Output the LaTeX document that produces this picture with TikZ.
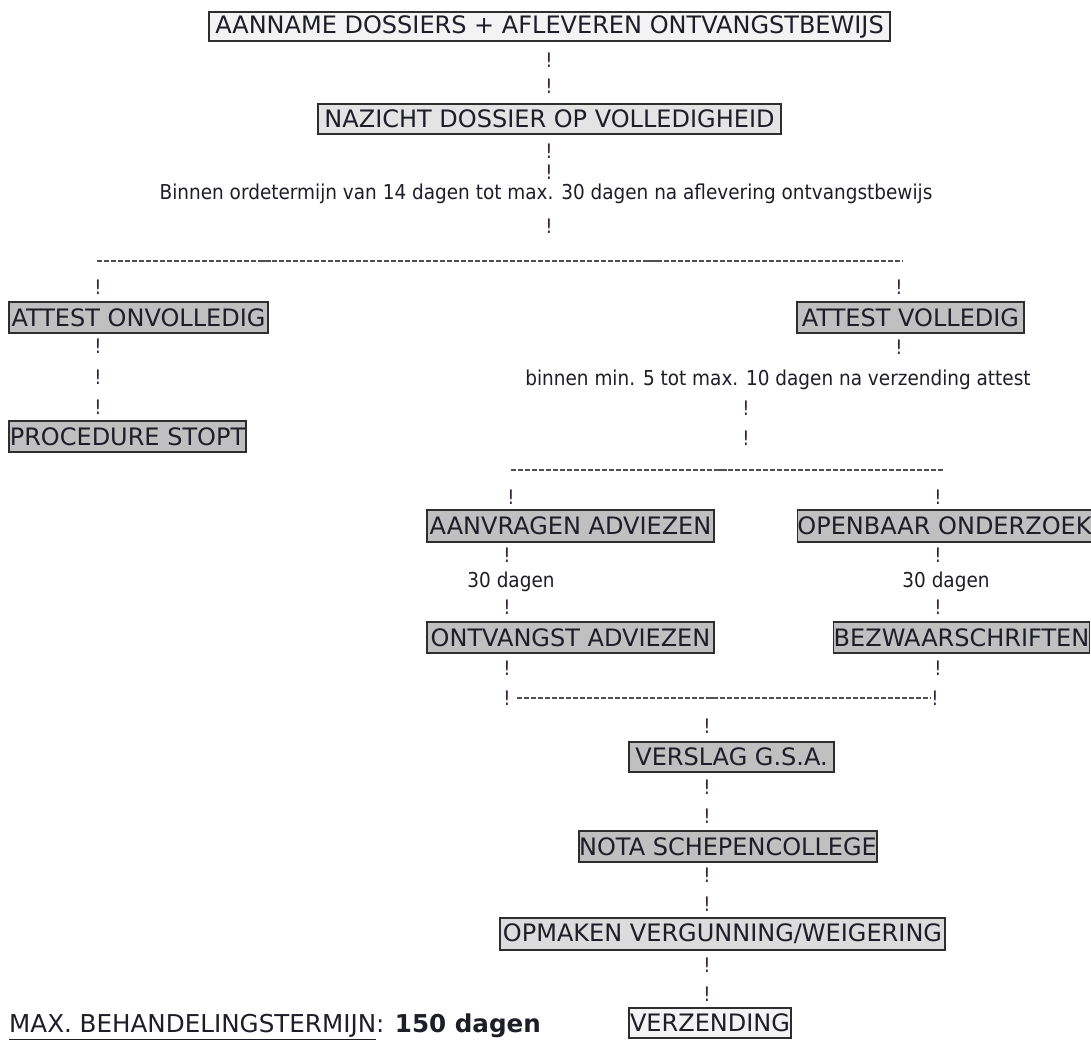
\documentclass[tikz,border=0pt]{standalone}
\usepackage{fontspec}
\setmainfont{DejaVu Sans}
\newfontfamily\tah{DejaVu Sans}[FakeStretch=0.9]
\definecolor{boxline}{HTML}{2E2E2E}
\definecolor{pale}{HTML}{F3F3F3}
\definecolor{light}{HTML}{E4E4E4}
\definecolor{lighttwo}{HTML}{DCDCDC}
\definecolor{midgray}{HTML}{C0C0C0}
\definecolor{textcol}{HTML}{1E1E28}
\definecolor{bangcol}{HTML}{3A2238}
\definecolor{dashcol}{HTML}{505050}
\begin{document}
\begin{tikzpicture}[x=1pt,y=-1pt,
  box/.style={draw=boxline, line width=1.6pt, inner sep=0pt, minimum height=30pt,
    font=\fontsize{24}{24}\selectfont, text=textcol},
  bang/.style={inner sep=0pt, font=\tah\fontsize{20}{20}\selectfont, text=bangcol},
  lbl/.style={inner sep=0pt, font=\tah\fontsize{20.5}{20.5}\selectfont, text=textcol},
  dashrow/.style={draw=dashcol, line width=1.1pt, dash pattern=on 5pt off 2pt},
  longdash/.style={draw=dashcol, line width=1.1pt},
]
\useasboundingbox (0,0) rectangle (1091,1039);
\fill[white] (0,0) rectangle (1091,1039);

% boxes
\node[box, fill=pale, minimum width=681pt, minimum height=29pt] (aanname) at (549.5,26.5) {AANNAME DOSSIERS + AFLEVEREN ONTVANGSTBEWIJS};
\node[box, fill=light, minimum width=463pt] (nazicht) at (549.5,119) {NAZICHT DOSSIER OP VOLLEDIGHEID};
\node[box, fill=midgray, minimum width=259pt, minimum height=31pt] (onvol) at (138.5,317.5) {ATTEST ONVOLLEDIG};
\node[box, fill=midgray, minimum width=227pt, minimum height=31pt] (vol) at (910.5,317.5) {ATTEST VOLLEDIG};
\node[box, fill=midgray, minimum width=237pt, minimum height=31pt] (stopt) at (127.5,436.5) {PROCEDURE STOPT};
\node[box, fill=midgray, minimum width=287pt, minimum height=32pt] (aanvr) at (570.5,526) {AANVRAGEN ADVIEZEN};
\node[box, fill=midgray, minimum width=290pt, minimum height=32pt] (openb) at (944.5,526) {OPENBAAR ONDERZOEK};
\node[box, fill=midgray, minimum width=287pt, minimum height=31pt] (ontv) at (570.5,637.5) {ONTVANGST ADVIEZEN};
\node[box, fill=midgray, minimum width=256pt, minimum height=31pt] (bezw) at (961.5,637.5) {BEZWAARSCHRIFTEN};
\node[box, fill=midgray, minimum width=205pt] (verslag) at (731.5,757) {VERSLAG G.S.A.};
\node[box, fill=midgray, minimum width=296pt, minimum height=31pt] (nota) at (728,846.5) {NOTA SCHEPENCOLLEGE};
\node[box, fill=lighttwo, minimum width=445pt, minimum height=32pt] (opmaken) at (722.5,934) {OPMAKEN VERGUNNING/WEIGERING};
\node[box, fill=pale, minimum width=162pt] (verz) at (710,1023) {VERZENDING};

% labels
\node[lbl] (t1) at (546,194) {Binnen ordetermijn van 14 dagen tot max. 30 dagen na aflevering ontvangstbewijs};
\node[lbl] (t2) at (778,380) {binnen min. 5 tot max. 10 dagen na verzending attest};
\node[lbl] (d1) at (511,582) {30 dagen};
\node[lbl] (d2) at (946,582) {30 dagen};
\node[inner sep=0pt, anchor=west, font=\fontsize{24.6}{24.6}\selectfont, text=textcol] (maxt) at (9,1027)
  {\underline{MAX. BEHANDELINGSTERMIJN}: \textbf{150 dagen}};

% exclamation connectors
\node[bang] (b1) at (549,60) {!};
\node[bang] (b2) at (549,86) {!};
\node[bang] (b3) at (549,151) {!};
\node[bang] (b4) at (549,172) {!};
\node[bang] (b5) at (549,226) {!};
\node[bang] (bl1) at (98,287) {!};
\node[bang] (bl2) at (98,346) {!};
\node[bang] (bl3) at (98,377) {!};
\node[bang] (bl4) at (98,407) {!};
\node[bang] (br1) at (899,287) {!};
\node[bang] (br2) at (899,347) {!};
\node[bang] (bm1) at (746,408) {!};
\node[bang] (bm2) at (746,438) {!};
\node[bang] (ba0) at (511,497) {!};
\node[bang] (bo0) at (938,497) {!};
\node[bang] (ba1) at (507,555) {!};
\node[bang] (ba2) at (507,607) {!};
\node[bang] (bo1) at (938,555) {!};
\node[bang] (bo2) at (938,607) {!};
\node[bang] (ba3) at (507,668) {!};
\node[bang] (bo3) at (938,668) {!};
\node[bang] (ba4) at (507,698) {!};
\node[bang] (bo4) at (935,698) {!};
\node[bang] (bc1) at (707,726) {!};
\node[bang] (bc2) at (707,787) {!};
\node[bang] (bc3) at (707,816) {!};
\node[bang] (bc4) at (707,875) {!};
\node[bang] (bc5) at (707,904) {!};
\node[bang] (bc6) at (707,965) {!};
\node[bang] (bc7) at (707,994) {!};

% dashed rows
\coordinate (r1a) at (97,261);
\coordinate (r1b) at (903,261);
\coordinate (r1j1a) at (260,261); \coordinate (r1j1b) at (271,261);
\coordinate (r1j2a) at (646,261); \coordinate (r1j2b) at (657,261);
\draw[dashrow] (r1a) -- (r1b);
\draw[longdash] (r1j1a) -- (r1j1b);
\draw[longdash] (r1j2a) -- (r1j2b);

\coordinate (r2a) at (511,470);
\coordinate (r2b) at (943,470);
\coordinate (r2ja) at (716,470); \coordinate (r2jb) at (727,470);
\draw[dashrow] (r2a) -- (r2b);
\draw[longdash] (r2ja) -- (r2jb);

\coordinate (r3a) at ([xshift=10pt]ba4.center);
\coordinate (r3b) at ([xshift=-4pt]bo4.center);
\coordinate (r3ja) at (706,698); \coordinate (r3jb) at (717,698);
\draw[dashrow] (r3a) -- (r3b);
\draw[longdash] (r3ja) -- (r3jb);
\end{tikzpicture}
\end{document}
